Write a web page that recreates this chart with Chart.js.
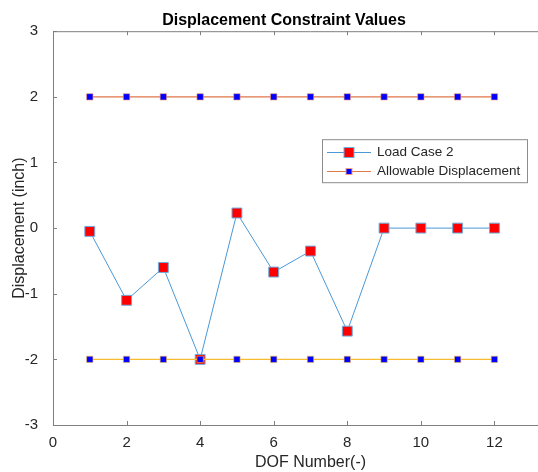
<!DOCTYPE html>
<html>
<head>
<meta charset="utf-8">
<script src="https://cdn.jsdelivr.net/npm/chart.js@4/dist/chart.umd.min.js"></script>
<style>
  html, body { margin: 0; padding: 0; background: #fff; overflow: hidden; }
  #wrap { position: relative; width: 580px; height: 472px; }
</style>
</head>
<body>
<div id="wrap"><canvas id="c" width="580" height="472"></canvas></div>
<script>
/* Displacement Constraint Values */
const dofs = [1, 2, 3, 4, 5, 6, 7, 8, 9, 10, 11, 12];
const loadCase2 = [-0.05, -1.1, -0.6, -2.0, 0.23, -0.67, -0.35, -1.57, 0, 0, 0, 0];
const allowUpper = [2, 2, 2, 2, 2, 2, 2, 2, 2, 2, 2, 2];
const allowLower = [-2, -2, -2, -2, -2, -2, -2, -2, -2, -2, -2, -2];
const xTicks = [0, 2, 4, 6, 8, 10, 12, 14];
const yTicks = [-3, -2, -1, 0, 1, 2, 3];

const AXIS = '#7f7f7f', TXT = '#262626';
const FONT = 'Arial, "Liberation Sans", Helvetica, sans-serif';
const pts = (ys) => dofs.map((x, i) => ({ x, y: ys[i] }));

// tick marks pointing inward + top box line (MATLAB style)
const boxTicks = {
  id: 'boxTicks',
  afterDraw(chart) {
    const { ctx, chartArea: a, scales: { x, y } } = chart;
    ctx.save();
    ctx.strokeStyle = AXIS; ctx.lineWidth = 1;
    ctx.beginPath();
    ctx.moveTo(a.left, a.top + 0.5); ctx.lineTo(a.right, a.top + 0.5);
    xTicks.forEach((v) => {
      const px = Math.round(x.getPixelForValue(v)) + 0.5;
      ctx.moveTo(px, a.bottom); ctx.lineTo(px, a.bottom - 4);
      ctx.moveTo(px, a.top); ctx.lineTo(px, a.top + 4);
    });
    yTicks.forEach((v) => {
      const py = Math.round(y.getPixelForValue(v)) + 0.5;
      ctx.moveTo(a.left, py); ctx.lineTo(a.left + 4, py);
    });
    ctx.stroke();
    ctx.restore();
  },
};

// legend box inside the axes
const boxLegend = {
  id: 'boxLegend',
  afterDraw(chart) {
    const { ctx, chartArea: a } = chart;
    const L = a.left + 269, T = a.top + 108, W = 205, H = 43;
    ctx.save();
    ctx.fillStyle = '#fff'; ctx.fillRect(L, T, W, H);
    ctx.strokeStyle = '#8c8c8c'; ctx.lineWidth = 1;
    ctx.strokeRect(L + 0.5, T + 0.5, W, H);
    const items = [
      { label: 'Load Case 2', line: '#4a98d6', fill: '#ff0000', edge: '#6aaee0', s: 10, dy: 13 },
      { label: 'Allowable Displacement', line: '#e07a4a', fill: '#0000ff', edge: '#f0a080', s: 6, dy: 32 },
    ];
    items.forEach((it) => {
      const cy = Math.round(T + it.dy) + 0.5;
      ctx.strokeStyle = it.line; ctx.lineWidth = 1;
      ctx.beginPath(); ctx.moveTo(L + 5, cy); ctx.lineTo(L + 49, cy); ctx.stroke();
      ctx.fillStyle = it.fill; ctx.fillRect(L + 27 - it.s / 2, cy - it.s / 2, it.s, it.s);
      ctx.strokeStyle = it.edge; ctx.strokeRect(L + 27 - it.s / 2, cy - it.s / 2, it.s, it.s);
      ctx.fillStyle = TXT; ctx.font = '13.5px ' + FONT; ctx.textBaseline = 'middle';
      ctx.fillText(it.label, L + 55, cy);
    });
    ctx.restore();
  },
};

new Chart(document.getElementById('c'), {
  type: 'line',
  data: {
    datasets: [
      { label: 'Load Case 2', data: pts(loadCase2), borderColor: '#4a98d6', borderWidth: 1,
        pointStyle: 'rect', pointRadius: 7, pointBackgroundColor: '#ff0000', pointBorderColor: '#6aaee0', pointBorderWidth: 1, order: 2 },
      { label: 'Allowable Displacement', data: pts(allowUpper), borderColor: '#e0744a', borderWidth: 1.2,
        pointStyle: 'rect', pointRadius: 4.5, pointBackgroundColor: '#0000ff', pointBorderColor: 'rgba(240,150,110,0.6)', pointBorderWidth: 1, order: 1 },
      { label: 'Allowable Lower', data: pts(allowLower), borderColor: '#f7bc30', borderWidth: 1.4,
        pointStyle: 'rect', pointRadius: 4.5, pointBackgroundColor: '#0000ff', pointBorderColor: 'rgba(245,190,70,0.6)', pointBorderWidth: 1, order: 1 },
    ],
  },
  options: {
    responsive: false, animation: false, devicePixelRatio: 1,
    layout: { padding: { top: 0, right: 12, bottom: 0, left: 0 } },
    plugins: {
      legend: { display: false }, tooltip: { enabled: false },
      title: { display: true, text: 'Displacement Constraint Values', color: '#000',
        font: { family: FONT, size: 16, weight: 'bold' }, padding: { top: 11, bottom: 1 } },
    },
    scales: {
      x: { type: 'linear', min: 0, max: 14,
        afterBuildTicks: (s) => { s.ticks = xTicks.map((v) => ({ value: v })); },
        afterFit: (s) => { s.height = 47; },
        grid: { display: false }, border: { color: AXIS },
        ticks: { color: TXT, font: { family: FONT, size: 15 }, padding: 1, autoSkip: false, maxRotation: 0,
          callback: (v) => (v <= 12 ? v : '') },
        title: { display: true, text: 'DOF Number(-)', color: TXT, font: { family: FONT, size: 16 }, padding: { top: 0, bottom: 0 } } },
      y: { min: -3, max: 3,
        afterBuildTicks: (s) => { s.ticks = yTicks.map((v) => ({ value: v })); },
        afterFit: (s) => { s.width = 53; },
        grid: { display: false }, border: { color: AXIS },
        ticks: { color: TXT, font: { family: FONT, size: 15 }, padding: 7, autoSkip: false },
        title: { display: true, text: 'Displacement (inch)', color: TXT, font: { family: FONT, size: 16 }, padding: { top: 10 } } },
    },
  },
  plugins: [boxTicks, boxLegend],
});
</script>
</body>
</html>
